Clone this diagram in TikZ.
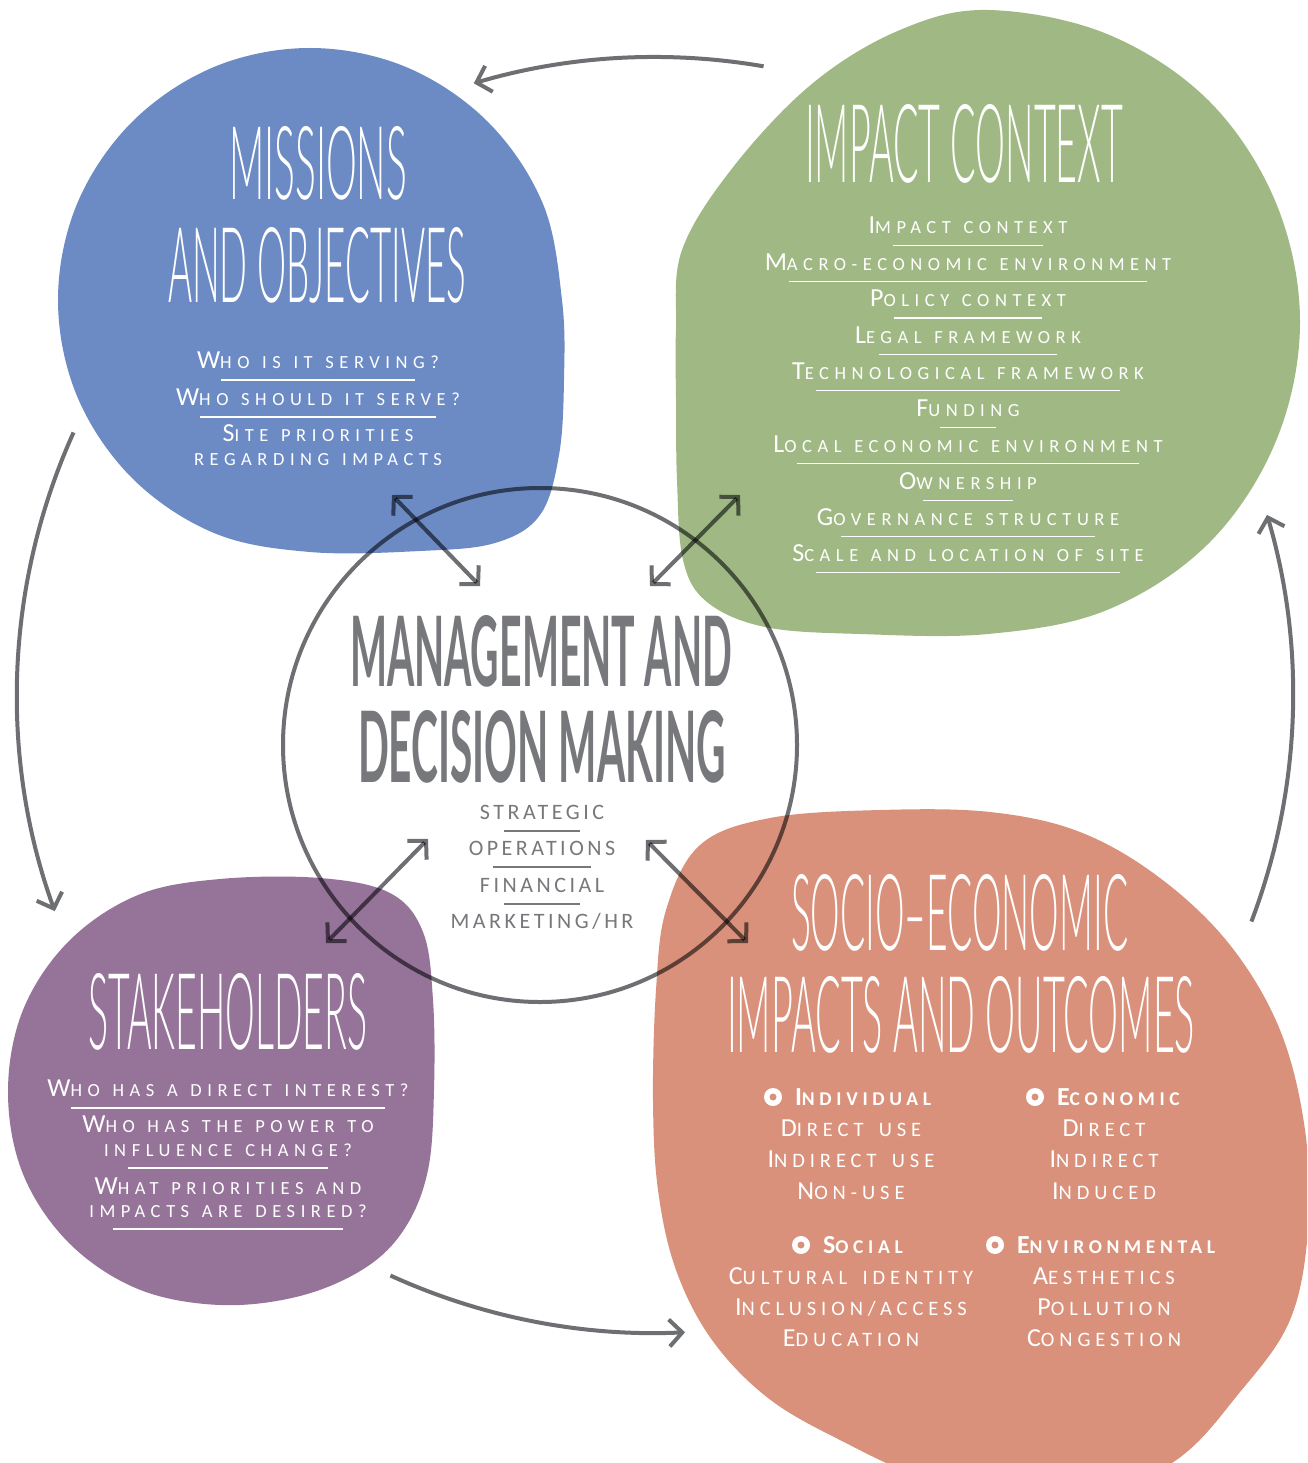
\documentclass[tikz,border=0pt]{standalone}
\usepackage{fontspec}
\usetikzlibrary{arrows.meta}
\setmainfont{Carlito}
\newfontfamily\scfont[LetterSpace=24, WordSpace=1.6]{Carlito}
\newfontfamily\sqfont[LetterSpace=30, WordSpace=1.3]{Carlito}
\newfontfamily\ctfont[LetterSpace=16, WordSpace=1.5]{Carlito}
\newfontfamily\hdfont{Lato Light}
\newfontfamily\mgfont{Lato}
\definecolor{cblue}{RGB}{108,139,197}
\definecolor{cgreen}{RGB}{160,185,132}
\definecolor{cpurple}{RGB}{150,116,153}
\definecolor{corange}{RGB}{218,145,123}
\definecolor{cgray}{RGB}{119,120,123}
\definecolor{agray}{RGB}{110,111,114}
\newcommand\SC[3][26]{{\fontsize{#1}{#1}\selectfont #2}#3}
\newcommand\TT[3]{\resizebox{#1pt}{#2pt}{#3}}
\tikzset{
  every node/.style={inner sep=0pt, outer sep=0pt},
  ttl/.style={anchor=base west, text=white, font=\hdfont},
  mttl/.style={anchor=base west, text=cgray, font=\mgfont\bfseries},
  itm/.style={anchor=base, text=white, font=\sqfont\fontsize{18.5}{18.5}\selectfont},
  citm/.style={anchor=base, text=cgray, font=\ctfont\fontsize{22}{22}\selectfont},
  oitm/.style={anchor=base, text=white, font=\scfont\fontsize{20.5}{20.5}\selectfont},
  ohd/.style={anchor=base west, text=white, font=\scfont\bfseries\fontsize{19.5}{19.5}\selectfont},
  wul/.style={draw=white, line width=1.6pt},
  gul/.style={draw=cgray, line width=1.6pt},
  bul/.style={circle, fill=white, minimum size=18pt},
  bdot/.style={circle, fill=corange, minimum size=7pt},
  dbl/.style={line width=4pt, draw=agray, >={Straight Barb[length=13pt,width=27pt]}, <->},
  outer/.style={line width=4pt, draw=agray, >={Straight Barb[length=13pt,width=27pt]}, ->},
}
\begin{document}
\begin{tikzpicture}[x=1pt, y=-1pt]
\useasboundingbox (0,0) rectangle (1307,1463);
\fill[white] (0,0) rectangle (1307,1463);
\begin{scope}
\clip (0,0) rectangle (1307,1463);
% blue blob
\fill[cblue] plot[smooth cycle, tension=0.6] coordinates {
 (58,300) (77,204) (132,122) (214,67) (310,48) (406,67) (488,122) (543,204) (562,300)
 (564,380) (559,455) (540,515) (495,543) (420,551) (310,552) (214,533) (132,478) (77,396)};
% green blob
\fill[cgreen] plot[smooth cycle, tension=0.6] coordinates {
 (676,330) (682,250) (734,166) (813,83) (900,30) (988,10) (1107,34) (1209,101) (1276,203)
 (1300,322) (1276,441) (1209,543) (1107,610) (988,634) (860,634) (765,627) (707,602)
 (683,560) (677,480) (676,400)};
% purple blob
\fill[cpurple] plot[smooth cycle, tension=0.6] coordinates {
 (8,1092) (23,1010) (69,941) (138,895) (220,879) (320,878) (390,893) (423,932) (433,1000)
 (434,1090) (428,1170) (405,1228) (365,1268) (300,1296) (220,1305) (138,1289) (69,1243) (23,1174)};
% orange blob
\fill[corange] plot[smooth cycle, tension=0.6] coordinates {
 (653,1100) (656,990) (666,910) (700,845) (770,818) (880,810) (990,812) (1080,832)
 (1160,878) (1230,945) (1280,1030) (1305,1130) (1308,1230) (1290,1320) (1240,1392)
 (1172,1463) (1060,1510) (930,1480) (840,1440) (768,1398) (712,1340) (676,1270) (658,1190)};
\end{scope}

% titles
\node[ttl] (tm1) at (229,200) {\TT{178}{73}{MISSIONS}};
\node[ttl] (tm2) at (168,302) {\TT{298}{75}{AND OBJECTIVES}};
\node[ttl] (tic) at (805,183) {\TT{318}{78}{IMPACT CONTEXT}};
\node[ttl] (tst) at (88,1049) {\TT{279}{76}{STAKEHOLDERS}};
\node[mttl] (tmg1) at (350,686) {\TT{382}{71}{MANAGEMENT AND}};
\node[mttl] (tmg2) at (358,782) {\TT{368}{72}{DECISION MAKING}};
\node[ttl] (tse1) at (791,950) {\TT{337}{76}{SOCIO–ECONOMIC}};
\node[ttl] (tse2) at (727,1052) {\TT{468}{76}{IMPACTS AND OUTCOMES}};

% missions items
\node[itm] (m1) at (318,368) {\SC{W}{HO IS IT SERVING?}};
\node[itm] (m2) at (318,405) {\SC{W}{HO SHOULD IT SERVE?}};
\node[itm] (m3) at (318,441) {\SC{S}{ITE PRIORITIES}};
\node[itm] (m4) at (318,465) {REGARDING IMPACTS};
\foreach \n in {m1,m2}
  \draw[wul] ([xshift=24pt,yshift=-12pt]\n.base west) -- ([xshift=-24pt,yshift=-12pt]\n.base east);

% impact context items
\node[itm] (g1) at (968,234) {\SC{I}{MPACT CONTEXT}};
\node[itm] (g2) at (968,270) {\SC{M}{ACRO-ECONOMIC ENVIRONMENT}};
\node[itm] (g3) at (968,306.5) {\SC{P}{OLICY CONTEXT}};
\node[itm] (g4) at (968,343) {\SC{L}{EGAL FRAMEWORK}};
\node[itm] (g5) at (968,379) {\SC{T}{ECHNOLOGICAL FRAMEWORK}};
\node[itm] (g6) at (968,416) {\SC{F}{UNDING}};
\node[itm] (g7) at (968,452) {\SC{L}{OCAL ECONOMIC ENVIRONMENT}};
\node[itm] (g8) at (968,489) {\SC{O}{WNERSHIP}};
\node[itm] (g9) at (968,525) {\SC{G}{OVERNANCE STRUCTURE}};
\node[itm] (g10) at (968,561) {\SC{S}{CALE AND LOCATION OF SITE}};
\foreach \n in {g1,g2,g3,g4,g5,g6,g7,g8,g9,g10}
  \draw[wul] ([xshift=24pt,yshift=-11.5pt]\n.base west) -- ([xshift=-24pt,yshift=-11.5pt]\n.base east);

% stakeholders items
\node[itm] (s1) at (228,1096) {\SC{W}{HO HAS A DIRECT INTEREST?}};
\node[itm] (s2) at (228,1132) {\SC{W}{HO HAS THE POWER TO}};
\node[itm] (s3) at (228,1156) {INFLUENCE CHANGE?};
\node[itm] (s4) at (228,1194) {\SC{W}{HAT PRIORITIES AND}};
\node[itm] (s5) at (228,1217) {IMPACTS ARE DESIRED?};
\foreach \n in {s1,s3,s5}
  \draw[wul] ([xshift=24pt,yshift=-12pt]\n.base west) -- ([xshift=-24pt,yshift=-12pt]\n.base east);

% management items
\node[citm] (c1) at (542,819) {STRATEGIC};
\node[citm] (c2) at (542,855) {OPERATIONS};
\node[citm] (c3) at (542,892) {FINANCIAL};
\node[citm] (c4) at (542,928) {MARKETING/HR};
\foreach \n in {c1,c2,c3}
  \draw[gul] ([xshift=24pt,yshift=-12pt]\n.base west) -- ([xshift=-24pt,yshift=-12pt]\n.base east);

% socio-economic items
\node[ohd] (h1) at (795,1105) {\SC{I}{NDIVIDUAL}};
\node[ohd] (h2) at (1057,1105) {\SC{E}{CONOMIC}};
\node[ohd] (h3) at (823,1253) {\SC{S}{OCIAL}};
\node[ohd] (h4) at (1017,1253) {\SC{E}{NVIRONMENTAL}};
\foreach \n in {h1,h2,h3,h4} {
  \node[bul] (\n b) at ([xshift=-22pt,yshift=8pt]\n.base west) {};
  \node[bdot] at (\n b) {};
}
\node[oitm] (i1) at (851,1136) {\SC{D}{IRECT USE}};
\node[oitm] (i2) at (851,1167) {\SC{I}{NDIRECT USE}};
\node[oitm] (i3) at (851,1199) {\SC{N}{ON-USE}};
\node[oitm] (e1) at (1104,1136) {\SC{D}{IRECT}};
\node[oitm] (e2) at (1104,1167) {\SC{I}{NDIRECT}};
\node[oitm] (e3) at (1104,1199) {\SC{I}{NDUCED}};
\node[oitm] (o1) at (851,1284) {\SC{C}{ULTURAL IDENTITY}};
\node[oitm] (o2) at (851,1315) {\SC{I}{NCLUSION/ACCESS}};
\node[oitm] (o3) at (851,1346) {\SC{E}{DUCATION}};
\node[oitm] (v1) at (1104,1284) {\SC{A}{ESTHETICS}};
\node[oitm] (v2) at (1104,1315) {\SC{P}{OLLUTION}};
\node[oitm] (v3) at (1104,1346) {\SC{C}{ONGESTION}};

% outer cycle arrows
\coordinate (O) at (655,695);
\draw[outer] ([shift={(80.2:638pt)}]O) arc[start angle=80.2, end angle=106.5, radius=638pt];
\draw[outer] ([shift={(155.7:638pt)}]O) arc[start angle=155.7, end angle=199.8, radius=638pt];
\draw[outer] ([shift={(-114.5:638pt)}]O) arc[start angle=-114.5, end angle=-87.3, radius=638pt];
\draw[outer] ([shift={(-20.8:638pt)}]O) arc[start angle=-20.8, end angle=16.4, radius=638pt];

% central ring and double arrows
\begin{scope}[blend mode=multiply]
\node[draw=agray, line width=4pt, circle, minimum size=514pt] (ring) at (540,745) {};
\coordinate (nwA) at (392,495); \coordinate (nwB) at (480,586);
\coordinate (neA) at (740,495); \coordinate (neB) at (650,586);
\coordinate (swA) at (428,839); \coordinate (swB) at (326,943);
\coordinate (seA) at (646,840); \coordinate (seB) at (748,943);
\draw[dbl] (nwA) -- (nwB);
\draw[dbl] (neA) -- (neB);
\draw[dbl] (swA) -- (swB);
\draw[dbl] (seA) -- (seB);
\end{scope}
\end{tikzpicture}
\end{document}
